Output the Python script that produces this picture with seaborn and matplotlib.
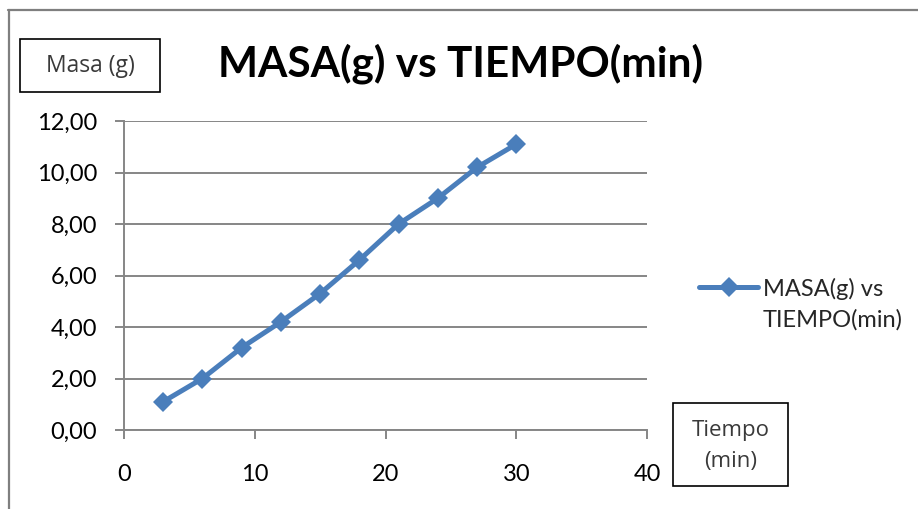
import matplotlib
matplotlib.use("Agg")
import matplotlib.pyplot as plt
import seaborn as sns
import pandas as pd
from matplotlib.lines import Line2D
from matplotlib.patches import Rectangle
from matplotlib.legend_handler import HandlerLine2D

# Data
tiempo = [3, 6, 9, 12, 15, 18, 21, 24, 27, 30]
masa = [1.1, 2.0, 3.2, 4.2, 5.3, 6.6, 8.0, 9.0, 10.2, 11.1]
series_name = "MASA(g) vs\nTIEMPO(min)"
title = "MASA(g) vs TIEMPO(min)"
y_ticks = [0, 2, 4, 6, 8, 10, 12]
y_tick_labels = ["0,00", "2,00", "4,00", "6,00", "8,00", "10,00", "12,00"]
x_ticks = [0, 10, 20, 30, 40]
x_tick_labels = ["0", "10", "20", "30", "40"]
y_box_label = "Masa (g)"
x_box_label = "Tiempo\n(min)"

sns.set_theme(style="white")
plt.rcParams['font.family'] = ['Lato', 'DejaVu Sans']

df = pd.DataFrame({"Tiempo": tiempo, "Masa": masa, "serie": series_name})

W, H = 918, 509
fig = plt.figure(figsize=(W / 100, H / 100), dpi=100)
ax = fig.add_axes([124 / W, 1 - 430 / H, (647 - 124) / W, (430 - 121) / H])

blue = "#4A7EBB"
sns.lineplot(data=df, x="Tiempo", y="Masa", hue="serie", palette=[blue],
             marker="D", markersize=10, markeredgewidth=0, linewidth=3.6,
             ax=ax, legend=True)

ax.set_xlim(0, 40)
ax.set_ylim(0, 12)
ax.set_xticks(x_ticks)
ax.set_xticklabels(x_tick_labels)
ax.set_yticks(y_ticks)
ax.set_yticklabels(y_tick_labels)
ax.set_xlabel("")
ax.set_ylabel("")

gray = "#868686"
ax.yaxis.grid(True, color=gray, linewidth=1.4)
ax.xaxis.grid(False)
for s in ["top", "right"]:
    ax.spines[s].set_visible(False)
for s in ["left", "bottom"]:
    ax.spines[s].set_color(gray)
    ax.spines[s].set_linewidth(1.4)
ax.tick_params(axis="both", which="both", length=6.2, width=1.4, color=gray,
               labelsize=17, labelcolor="black", direction="out",
               left=True, bottom=True)
ax.tick_params(axis="x", pad=18)
ax.tick_params(axis="y", pad=13)


class TopHandler(HandlerLine2D):
    def create_artists(self, legend, orig_handle, xdescent, ydescent,
                       width, height, fontsize, trans):
        arts = super().create_artists(legend, orig_handle, xdescent, ydescent,
                                      width, height, fontsize, trans)
        for a in arts:
            a.set_ydata([y + 13 for y in a.get_ydata()])
        return arts


handles, labels = ax.get_legend_handles_labels()
leg = ax.legend(handles, labels, loc="upper left", bbox_to_anchor=(1.082, 0.522),
                frameon=False, fontsize=17, handlelength=2.5, handletextpad=0.2,
                borderaxespad=0.0, labelspacing=0.2,
                handler_map={type(handles[0]): TopHandler()})
for t in leg.get_texts():
    t.set_linespacing(1.5)

fig.text(461 / W, 1 - 64 / H, title, fontsize=30.5, fontweight="bold",
         ha="center", va="center", color="black")

# text boxes
box_kw = dict(transform=fig.transFigure, fc="white", ec="black", lw=1.2)
fig.add_artist(Rectangle((20 / W, 1 - 92 / H), 140 / W, 53 / H, **box_kw))
fig.add_artist(Rectangle((673 / W, 1 - 486 / H), 115 / W, 83 / H, **box_kw))
fig.text(90 / W, 1 - 66 / H, y_box_label, fontsize=16.5, ha="center", va="center",
         color="#3a3a3a", family=["Open Sans", "DejaVu Sans"])
fig.text(731 / W, 1 - 446 / H, x_box_label, fontsize=16, ha="center", va="center",
         color="#3a3a3a", family=["Open Sans", "DejaVu Sans"], linespacing=1.65)

# chart frame (top and left edges visible)
fig.add_artist(Line2D([8 / W, 1.0], [1 - 10 / H, 1 - 10 / H],
                      transform=fig.transFigure, color="#7f7f7f", lw=1.6))
fig.add_artist(Line2D([9 / W, 9 / W], [0.0, 1 - 10 / H],
                      transform=fig.transFigure, color="#7f7f7f", lw=1.6))

fig.savefig("out.png", dpi=100)
